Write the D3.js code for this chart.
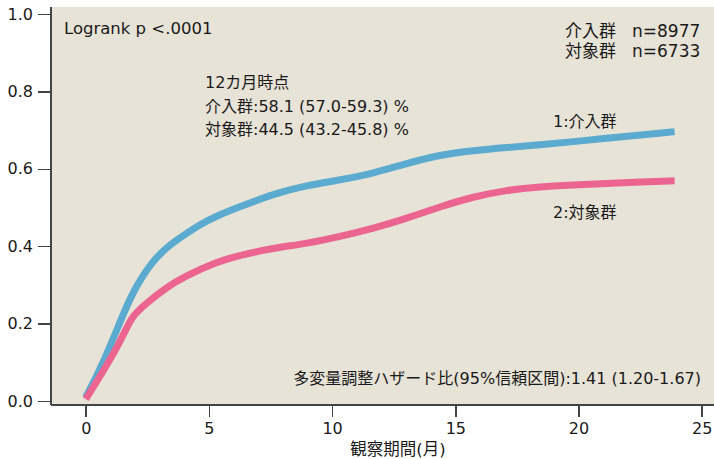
<html>
<style>
body { margin: 0; background: #fff; }
svg text { font-family: "DejaVu Sans", "Noto Sans CJK JP", sans-serif; fill: #1a1a1a; }
.axis path, .axis line { stroke: #444; stroke-width: 1.5; shape-rendering: crispEdges; }
.axis text { font-size: 16px; font-family: "DejaVu Sans", sans-serif; fill: #1a1a1a; }
</style>
<svg width="714" height="459"></svg>
<script src="https://d3js.org/d3.v7.min.js"></script>
<script>

// months, cumulative incidence
var interventionPts = [[0,0.01],[0.7,0.095],[1.69,0.252],[2.09,0.300],[2.64,0.356],[3.31,0.399],[3.99,0.429],[4.67,0.457],[5.34,0.479],[6.26,0.502],[7.61,0.535],[8.97,0.557],[10.32,0.571],[11.67,0.588],[13.03,0.614],[14.38,0.636],[15.73,0.647],[17.09,0.655],[18.44,0.662],[19.79,0.670],[21.14,0.679],[22.5,0.687],[23.9,0.696]];
var controlPts = [[0,0.005],[0.74,0.080],[1.28,0.140],[1.69,0.192],[1.89,0.218],[2.37,0.248],[3.31,0.295],[3.99,0.321],[5.34,0.360],[6.26,0.377],[7.61,0.395],[8.97,0.407],[10.32,0.425],[11.67,0.446],[13.03,0.472],[14.38,0.502],[15.73,0.528],[17.09,0.545],[18.44,0.554],[19.79,0.558],[21.14,0.562],[22.5,0.566],[23.9,0.569]];
var xTicks = [0, 5, 10, 15, 20, 25];
var yTicks = [0, 0.2, 0.4, 0.6, 0.8, 1.0];
var nLabels = [["介入群", "n=8977"], ["対象群", "n=6733"]];
var noteLines = ["12カ月時点", "介入群:58.1 (57.0-59.3) %", "対象群:44.5 (43.2-45.8) %"];

var svg = d3.select("svg");
var pLeft = 51, pRight = 714, pTop = 7, pBottom = 405;

var x = d3.scaleLinear().domain([-1.41, 25.5]).range([pLeft, pRight]);
var y = d3.scaleLinear().domain([-0.0103, 1.018]).range([pBottom, pTop]);

svg.append("rect")
    .attr("x", pLeft).attr("y", pTop)
    .attr("width", pRight - pLeft).attr("height", pBottom - pTop)
    .attr("fill", "#e8e3d7");

var line = d3.line()
    .x(d => x(d[0]))
    .y(d => y(d[1]))
    .curve(d3.curveBasis);

svg.append("path").datum(interventionPts)
    .attr("d", line).attr("fill", "none")
    .attr("stroke", "#5aabcf").attr("stroke-width", 7);
svg.append("path").datum(controlPts)
    .attr("d", line).attr("fill", "none")
    .attr("stroke", "#eb6590").attr("stroke-width", 7);

svg.append("g").attr("class", "axis")
    .attr("transform", "translate(" + pLeft + ",0)")
    .call(d3.axisLeft(y).tickValues(yTicks).tickFormat(d3.format(".1f")).tickSize(13).tickSizeOuter(0).tickPadding(5))
    .call(g => g.select(".domain").attr("d", "M0," + pTop + "V" + pBottom));

svg.append("g").attr("class", "axis")
    .attr("transform", "translate(0," + pBottom + ")")
    .call(d3.axisBottom(x).tickValues(xTicks).tickSize(12).tickSizeOuter(0).tickPadding(6))
    .call(g => g.select(".domain").attr("d", "M" + pLeft + ",0H" + pRight));

svg.append("text").attr("x", 398).attr("y", 455)
    .attr("text-anchor", "middle").attr("font-size", 16.5).text("観察期間(月)");

svg.append("text").attr("x", 64).attr("y", 34)
    .attr("font-size", 16.5).text("Logrank p <.0001");

nLabels.forEach(function(d, i) {
    svg.append("text").attr("x", 565).attr("y", 37 + i * 20).attr("font-size", 17).text(d[0]);
    svg.append("text").attr("x", 632).attr("y", 37 + i * 20).attr("font-size", 17).text(d[1]);
});

noteLines.forEach(function(t, i) {
    svg.append("text").attr("x", 205).attr("y", 88 + i * 23.5).attr("font-size", 16).text(t);
});

svg.append("text").attr("x", 553).attr("y", 127).attr("font-size", 16).text("1:介入群");
svg.append("text").attr("x", 553).attr("y", 218).attr("font-size", 16).text("2:対象群");

svg.append("text").attr("x", 701).attr("y", 384).attr("text-anchor", "end")
    .attr("font-size", 16).text("多変量調整ハザード比(95%信頼区間):1.41 (1.20-1.67)");

</script>
</html>
